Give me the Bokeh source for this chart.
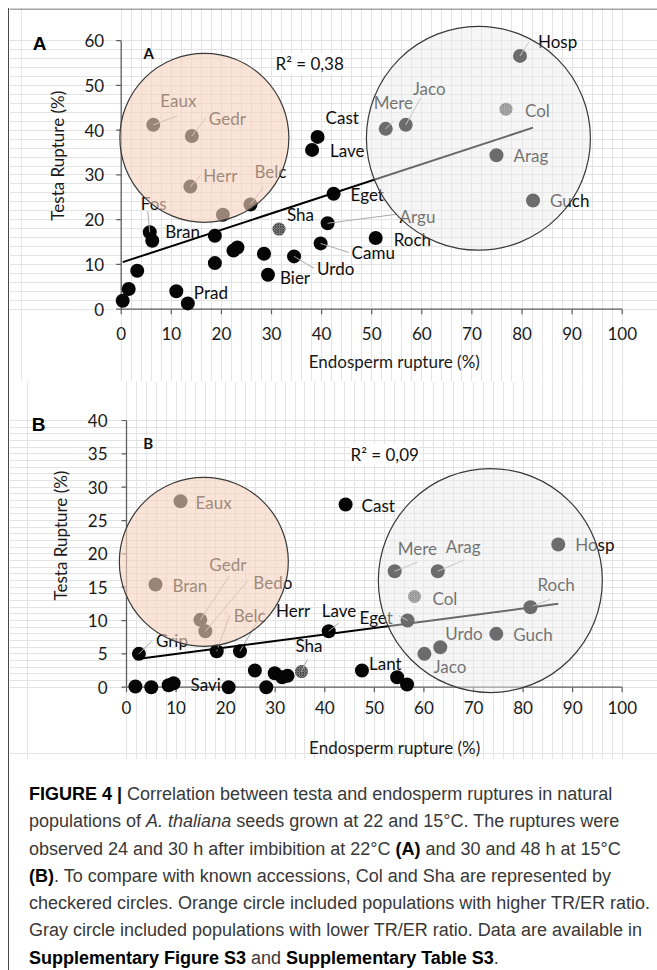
import math
from bokeh.plotting import figure
from bokeh.models import Range1d, SingleIntervalTicker, Grid, Div
from bokeh.layouts import column
from bokeh.embed import file_html
from bokeh.resources import INLINE
from bokeh.core.properties import value

# ---------------- Panel A (22 °C) ----------------
a_names = ["", "", "", "Fos", "Bran", "", "Prad", "", "", "", "", "", "Bier", "Urdo",
           "Camu", "Argu", "Eget", "Cast", "Lave", "Roch", "Eaux", "Gedr", "Herr", "",
           "Belc", "Mere", "Jaco", "Arag", "Guch", "Hosp"]
a_er = [0.3, 1.5, 3.2, 5.7, 6.2, 11.0, 13.3, 18.7, 18.7, 22.4, 23.2, 28.5, 29.3, 34.5,
        39.8, 41.2, 42.4, 39.2, 38.1, 50.8, 6.4, 14.1, 13.8, 20.3,
        25.8, 52.8, 56.8, 74.9, 82.2, 79.6]
a_tr = [1.9, 4.5, 8.6, 17.2, 15.3, 4.0, 1.3, 16.4, 10.3, 13.1, 13.8, 12.4, 7.7, 11.8,
        14.7, 19.2, 25.8, 38.5, 35.6, 15.9, 41.2, 38.7, 27.4, 21.1,
        23.4, 40.3, 41.2, 34.4, 24.3, 56.6]
a_ref_names = ["Sha", "Col"]
a_ref_er = [31.5, 76.8]
a_ref_tr = [17.9, 44.7]
a_trend = [10.4, 0.367]          # intercept, slope of the linear trend line
a_r2 = "R² = 0,38"
a_orange = [16.6, 38.3]          # centre of orange group circle (ER, TR)
a_gray = [71.3, 38.2]            # centre of gray group circle (ER, TR)
a_xticks = [0, 10, 20, 30, 40, 50, 60, 70, 80, 90, 100]
a_yticks = [0, 10, 20, 30, 40, 50, 60]

# ---------------- Panel B (15 °C) ----------------
b_names = ["", "Grip", "", "", "Savi", "Bran", "Eaux", "Gedr", "Bedo", "Belc", "", "Herr",
           "", "", "", "", "", "Lave", "Cast", "Lant", "", "", "Mere", "Arag", "Eget",
           "Jaco", "Urdo", "Guch", "Roch", "Hosp"]
b_er = [1.8, 2.5, 5.0, 8.5, 9.5, 5.85, 10.9, 14.9, 15.9, 18.2, 20.6, 22.9,
        25.9, 28.2, 29.9, 31.4, 32.5, 40.8, 44.2, 47.5, 54.6, 56.6, 54.1, 62.8, 56.7,
        60.1, 63.3, 74.6, 81.5, 87.1]
b_tr = [0.1, 5.0, 0.0, 0.3, 0.6, 15.4, 27.9, 10.1, 8.4, 5.4, 0.0, 5.4,
        2.5, 0.0, 2.1, 1.5, 1.7, 8.4, 27.4, 2.5, 1.5, 0.4, 17.4, 17.4, 10.0,
        5.0, 6.0, 8.0, 12.0, 21.4]
b_ref_names = ["Sha", "Col"]
b_ref_er = [35.3, 58.1]
b_ref_tr = [2.35, 13.6]
b_trend = [4.02, 0.0974]
b_r2 = "R² = 0,09"
b_orange = [15.6, 18.8]
b_gray = [73.4, 16.0]
b_xticks = [0, 10, 20, 30, 40, 50, 60, 70, 80, 90, 100]
b_yticks = [0, 5, 10, 15, 20, 25, 30, 35, 40]

x_title = "Endosperm rupture (%)"
y_title = "Testa Rupture (%)"

# label placement (pixels): text dx, dy from point; leader end dx, dy (or None)
a_lab = {
    "Fos": (-9, -29, -2, -21), "Bran": (13, -9, None, None), "Prad": (6, -11, None, None),
    "Bier": (12, 3, None, None), "Urdo": (23, 12, 20, 12), "Camu": (31, 9, 28, 9),
    "Argu": (72, -7, 69, -9), "Eget": (17, 1, None, None), "Cast": (8, -19, None, None),
    "Lave": (18, 1, None, None), "Roch": (18, 1, None, None), "Sha": (8, -15, None, None),
    "Eaux": (7, -24, 24, -9), "Gedr": (17, -18, 14, -18), "Herr": (13, -11, 10, -11),
    "Belc": (4, -33, 13, -17), "Mere": (-12, -26, 8, -8), "Jaco": (7, -36, 15, -27),
    "Col": (19, 1, None, None), "Arag": (17, 0, None, None), "Guch": (17, 0, None, None),
    "Hosp": (18, -14, 9, -14),
}
b_lab = {
    "Grip": (17, -13, 13, -13), "Savi": (17, 1, None, None), "Bran": (17, 1, None, None),
    "Eaux": (15, 1, None, None), "Gedr": (9, -55, 29, -44), "Bedo": (48, -49, 43, -51),
    "Belc": (17, -36, 13, -36), "Herr": (36, -41, 24, -41), "Sha": (-6, -26, 6, -12),
    "Lave": (-7, -21, 10, -8), "Eget": (-48, -3, -9, -5), "Cast": (16, 1, None, None),
    "Lant": (7, -7, None, None), "Mere": (3, -23, 23, -9), "Arag": (8, -25, 26, -11),
    "Col": (18, 2, None, None), "Roch": (7, -23, 20, -8), "Hosp": (17, 0, None, None),
    "Urdo": (5, -14, None, None), "Guch": (17, 1, None, None), "Jaco": (9, 13, None, None),
}

FONT = "Lato"
INK = "#1a1a1a"
AXIS = "#5f5f5f"


def panel(names, er, tr, rnames, rer, rtr, trend, r2, orange, gray, labs,
          xticks, yticks, cfg):
    W, H = 648, cfg["h"]
    sx, sy = cfg["sx"], cfg["sy"]
    x0p, y0p = cfg["origin"]            # pixel position of data (0, 0) in the canvas
    xr = (-x0p / sx, (W - x0p) / sx)
    yr = ((y0p - H) / sy, y0p / sy)
    p = figure(width=W, height=H, x_range=Range1d(*xr), y_range=Range1d(*yr),
               x_axis_location=None, y_axis_location=None, min_border=0,
               output_backend="svg", toolbar_location=None,
               background_fill_color="white", border_fill_color="white",
               outline_line_color=None)
    xmax_ax, ymax_ax = xticks[-1], yticks[-1]

    # frame rule along the top edge of the whole figure
    if cfg.get("top_rule"):
        p.segment([xr[0]], [yr[1] - 0.5 / sy], [xr[1]], [yr[1] - 0.5 / sy],
                  line_color="#4a4a4a", line_width=1)

    # fine grid
    p.add_layout(Grid(dimension=0, ticker=SingleIntervalTicker(interval=2),
                      bounds=(0, xmax_ax), grid_line_color="#e3e3e3", grid_line_width=1))
    p.add_layout(Grid(dimension=1, ticker=SingleIntervalTicker(interval=cfg["ygrid"]),
                      bounds=(0, ymax_ax), grid_line_color="#e3e3e3", grid_line_width=1))

    # axis lines and outward ticks
    p.segment([0, 0], [0, 0], [xmax_ax, 0], [0, ymax_ax], line_color=AXIS, line_width=1.3)
    p.segment(xticks, [0] * len(xticks), xticks, [-5 / sy] * len(xticks),
              line_color=AXIS, line_width=1.2)
    p.segment([0] * len(yticks), yticks, [-5 / sx] * len(yticks), yticks,
              line_color=AXIS, line_width=1.2)
    p.text(xticks, [-cfg["xlab"] / sy] * len(xticks), text=[str(t) for t in xticks],
           text_font=value(FONT), text_font_size="17px", text_align="center",
           text_baseline="middle", text_color=INK)
    p.text([-cfg["ylab"] / sx] * len(yticks), yticks, text=[str(t) for t in yticks],
           text_font=value(FONT), text_font_size="17px", text_align="right",
           text_baseline="middle", text_color=INK)
    # axis titles
    p.text([cfg["xt"][0]], [cfg["xt"][1]], text=[x_title], text_font=value(FONT),
           text_font_size="17px", text_align="center", text_baseline="middle",
           text_color=INK)
    p.text([cfg["yt"][0]], [cfg["yt"][1]], text=[y_title], text_font=value(FONT),
           text_font_size="17px", text_align="center", text_baseline="middle",
           text_color=INK, angle=math.pi / 2)

    # data points
    p.scatter(er, tr, size=14, marker="circle", fill_color="#050505", line_color=None)
    p.scatter(rer, rtr, size=13, marker="circle", fill_color="#b4b4b4", line_color=None,
              hatch_pattern="diagonal_cross", hatch_scale=2.5, hatch_color="#3a3a3a",
              hatch_weight=1)

    # point labels and leader lines
    lx, ly, lt, sx0, sy0, sx1, sy1 = [], [], [], [], [], [], []
    for n, x, y in list(zip(names, er, tr)) + list(zip(rnames, rer, rtr)):
        if not n or n not in labs:
            continue
        dx, dy, ldx, ldy = labs[n]
        lx.append(x + dx / sx)
        ly.append(y - dy / sy)
        lt.append(n)
        if ldx is not None:
            sx0.append(x)
            sy0.append(y)
            sx1.append(x + ldx / sx)
            sy1.append(y - ldy / sy)
    p.segment(sx0, sy0, sx1, sy1, line_color="#a8a8a8", line_width=1)
    p.text(lx, ly, text=lt, text_font=value(FONT), text_font_size="17px",
           text_baseline="middle", text_align="left", text_color="#0d0d0d")

    # linear trend line
    xmin, xmax = min(er + rer), max(er + rer)
    p.line([xmin, xmax], [trend[0] + trend[1] * xmin, trend[0] + trend[1] * xmax],
           line_color="#000000", line_width=2)

    # translucent group circles drawn over the points
    p.scatter([orange[0]], [orange[1]], size=169, marker="circle",
              fill_color="#f5d4bf", fill_alpha=0.62, line_color="#3a3a3a", line_width=1.2)
    p.scatter([gray[0]], [gray[1]], size=224, marker="circle",
              fill_color="#ececec", fill_alpha=0.45, line_color="#3a3a3a", line_width=1.2)

    # inner letter, R² and outer panel letter
    p.text([cfg["inner"][0]], [cfg["inner"][1]], text=[cfg["letter"]], text_font=value(FONT),
           text_font_size="15px", text_font_style="bold", text_align="center",
           text_baseline="middle", text_color="#111")
    p.text([cfg["r2"][0]], [cfg["r2"][1]], text=[r2], text_font=value(FONT),
           text_font_size="17px", text_align="left", text_baseline="middle",
           text_color="#111", background_fill_color="white")
    p.text([cfg["outer"][0]], [cfg["outer"][1]], text=[cfg["letter"]],
           text_font=value("Liberation Sans"), text_font_size="19px",
           text_font_style="bold", text_align="center", text_baseline="middle",
           text_color="#000")
    return p


cfg_a = dict(h=373, sx=5.01, sy=4.475, origin=(111.7, 300.7), ygrid=2, top_rule=True,
             xlab=24.5, ylab=17, xt=(54.5, -11.7), yt=(-12.7, 34.3),
             inner=(5.5, 57.2), r2=(30.8, 54.9), outer=(-16.3, 59.4), letter="A")
cfg_b = dict(h=378, sx=4.957, sy=6.667, origin=(117.0, 305.7), ygrid=1,
             xlab=20, ylab=19, xt=(54.1, -9.0), yt=(-13.3, 22.75),
             inner=(4.4, 36.7), r2=(45.2, 34.9), outer=(-17.75, 39.4), letter="B")

pa = panel(a_names, a_er, a_tr, a_ref_names, a_ref_er, a_ref_tr, a_trend, a_r2,
           a_orange, a_gray, a_lab, a_xticks, a_yticks, cfg_a)
pb = panel(b_names, b_er, b_tr, b_ref_names, b_ref_er, b_ref_tr, b_trend, b_r2,
           b_orange, b_gray, b_lab, b_xticks, b_yticks, cfg_b)

caption = (
    "<div style=\"font-family:'Liberation Sans',Arial,sans-serif;font-size:18px;"
    "line-height:27.3px;color:#383838;padding:17px 0 0 15px;white-space:nowrap;\">"
    "<b style='color:#000'>FIGURE 4 |</b> Correlation between testa and endosperm ruptures in natural<br>"
    "populations of <i>A. thaliana</i> seeds grown at 22 and 15°C. The ruptures were<br>"
    "observed 24 and 30 h after imbibition at 22°C <b style='color:#000'>(A)</b> and 30 and 48 h at 15°C<br>"
    "<b style='color:#000'>(B)</b>. To compare with known accessions, Col and Sha are represented by<br>"
    "checkered circles. Orange circle included populations with higher TR/ER ratio.<br>"
    "Gray circle included populations with lower TR/ER ratio. Data are available in<br>"
    "<b style='color:#000'>Supplementary Figure S3</b> and <b style='color:#000'>Supplementary Table S3</b>."
    "</div>"
)
cap = Div(text=caption, width=648, height=211)

layout = column(pa, pb, cap, spacing=0,
                styles={"margin-left": "8px", "margin-top": "8px",
                        "border-left": "1px solid #4a4a4a"})

open("out.html", "w").write(file_html(layout, INLINE))
